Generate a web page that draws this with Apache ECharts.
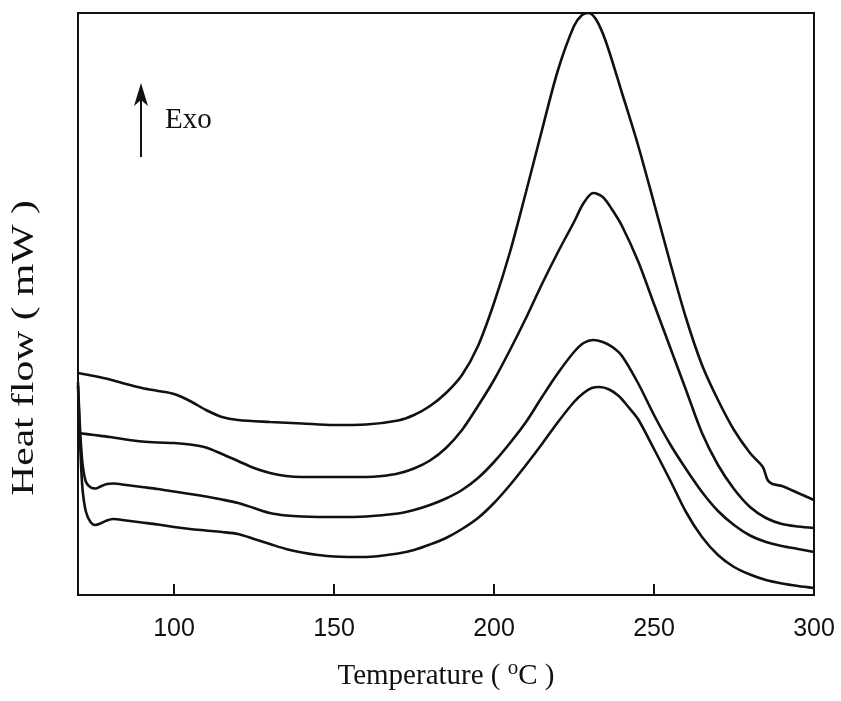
<!DOCTYPE html>
<html>
<head>
<meta charset="utf-8">
<script src="https://cdn.jsdelivr.net/npm/echarts@6/dist/echarts.min.js"></script>
<style>
html,body{margin:0;padding:0;background:#fff;}
#chart{width:841px;height:701px;}
</style>
</head>
<body>
<div id="chart"></div>
<script>
// Temperature (°C) and heat flow (arbitrary units; the y scale is not labelled)
var temp1 = [70,75,80,85,90,95,100,105,110,115,120,130,140,150,160,170,175,180,185,190,195,200,205,210,215,220,225,227.5,229.5,232,235,240,245,250,255,260,265,270,275,280,284,285.5,287,290,295,300];
var heat1 = [222,219,215.5,211,207,204,201,194,185,178,175,173,171.5,170,170.5,174.5,180,189,202,220,249,292,343,403,465,525,569,580,582,575,553,502,450,392,333,277,230,195,165,142,128,115,111,109,102,95];

var temp2 = [70,75,80,85,90,95,100,105,110,115,120,125,130,135,140,150,160,165,170,175,180,185,190,195,200,205,210,215,220,225,228,231,234,237,240,245,250,255,260,265,270,275,280,285,290,295,300];
var heat2 = [162,160,158,155.5,153.5,152.5,152,150.5,147.5,141,134,127,122,119,118,118,118,119,121.5,126.5,134.5,147,165,189,215,245,277,311,343,373,392,402,398,385,369,334,291,248,205,162,130,106,88,77,71,68.5,67];

var temp3 = [70,70.5,71,71.5,72.5,74,75.5,77,79,81,85,90,95,100,105,110,115,120,125,130,135,140,150,160,170,175,180,185,190,195,200,205,210,215,220,225,228,231,234,237,240,245,250,255,260,265,270,275,280,285,290,295,300];
var heat3 = [213,175,147,129,113,107.5,106.5,108.5,111,111.5,110,108,106,103.5,101,98.5,95.5,92,87,82,79.5,78.5,78,78.5,81.5,85,90,96.5,105,117,133,152,173,198,222,243,252,255,253,248,239,212,180,151,126,103,84,70,59.5,53,49,46,43];

var temp4 = [70,70.5,71,71.5,72.5,74,75.5,77,79,81,85,90,95,100,105,110,115,120,125,130,135,140,145,150,160,170,175,180,185,190,195,200,205,210,215,220,225,228,230.5,233,236,239,242,245,250,255,260,265,270,275,280,285,290,295,300];
var heat4 = [209,165,127,103,83,72.5,70,71.5,74.5,76,74.5,72.5,70.5,68,66,64.5,63,61,56,51,46,42.5,40,38.5,38,41.5,45,50.5,57,66,77,92,110,130,151,173,193,202,207,208,205.5,199,188,176,146,115,83,58,40,28,20.5,15,11.5,9,7];

var xTicks = [100,150,200,250,300];
var xMin = 70, xMax = 300;
var yMin = 0, yMax = 582;

function zip(a,b){ return a.map(function(v,i){ return [v,b[i]]; }); }

var chart = echarts.init(document.getElementById('chart'), null, {renderer:'canvas'});
var lineStyle = {color:'#111', width:2.6};
function mk(t,h){
  return {type:'line', data:zip(t,h), showSymbol:false, smooth:0.3, lineStyle:lineStyle, silent:true, z:3};
}
var serif = 'Liberation Serif, Times New Roman, serif';
chart.setOption({
  animation:false,
  backgroundColor:'#fff',
  grid:{left:78, right:27, top:13, bottom:106, show:true, borderColor:'#111', borderWidth:2, backgroundColor:'transparent'},
  xAxis:{
    type:'value', min:xMin, max:xMax,
    axisLine:{show:true, lineStyle:{color:'#111', width:2}},
    axisTick:{show:true, inside:true, length:11, customValues:xTicks, lineStyle:{color:'#111', width:2}},
    axisLabel:{show:true, customValues:xTicks, margin:22, color:'#111', fontSize:25, fontFamily:'Liberation Sans, Arial, sans-serif'},
    splitLine:{show:false},
    name:'Temperature ( {sup|o}C )',
    nameLocation:'middle', nameGap:63,
    nameTextStyle:{color:'#111', fontSize:29, fontFamily:serif,
      rich:{sup:{fontSize:21, verticalAlign:'top', padding:[0,0,15,0], color:'#111', fontFamily:serif}}}
  },
  yAxis:{
    type:'value', min:yMin, max:yMax,
    axisLine:{show:true, lineStyle:{color:'#111', width:2}},
    axisTick:{show:false}, axisLabel:{show:false}, splitLine:{show:false}
  },
  graphic:[
    {type:'text', x:25, y:348, rotation:Math.PI/2, scaleX:1.3, style:{text:'Heat flow ( mW )', fill:'#111', fontSize:32, fontFamily:serif, align:'center', verticalAlign:'middle'}},
    {type:'line', shape:{x1:141, y1:157, x2:141, y2:95}, style:{stroke:'#111', lineWidth:2}},
    {type:'polygon', shape:{points:[[141,83],[134,106],[141,100],[148,106]]}, style:{fill:'#111'}},
    {type:'text', x:165, y:120, style:{text:'Exo', fill:'#111', fontSize:29, fontFamily:serif, align:'left', verticalAlign:'middle'}}
  ],
  series:[mk(temp1,heat1), mk(temp2,heat2), mk(temp3,heat3), mk(temp4,heat4)]
});
</script>
</body>
</html>
